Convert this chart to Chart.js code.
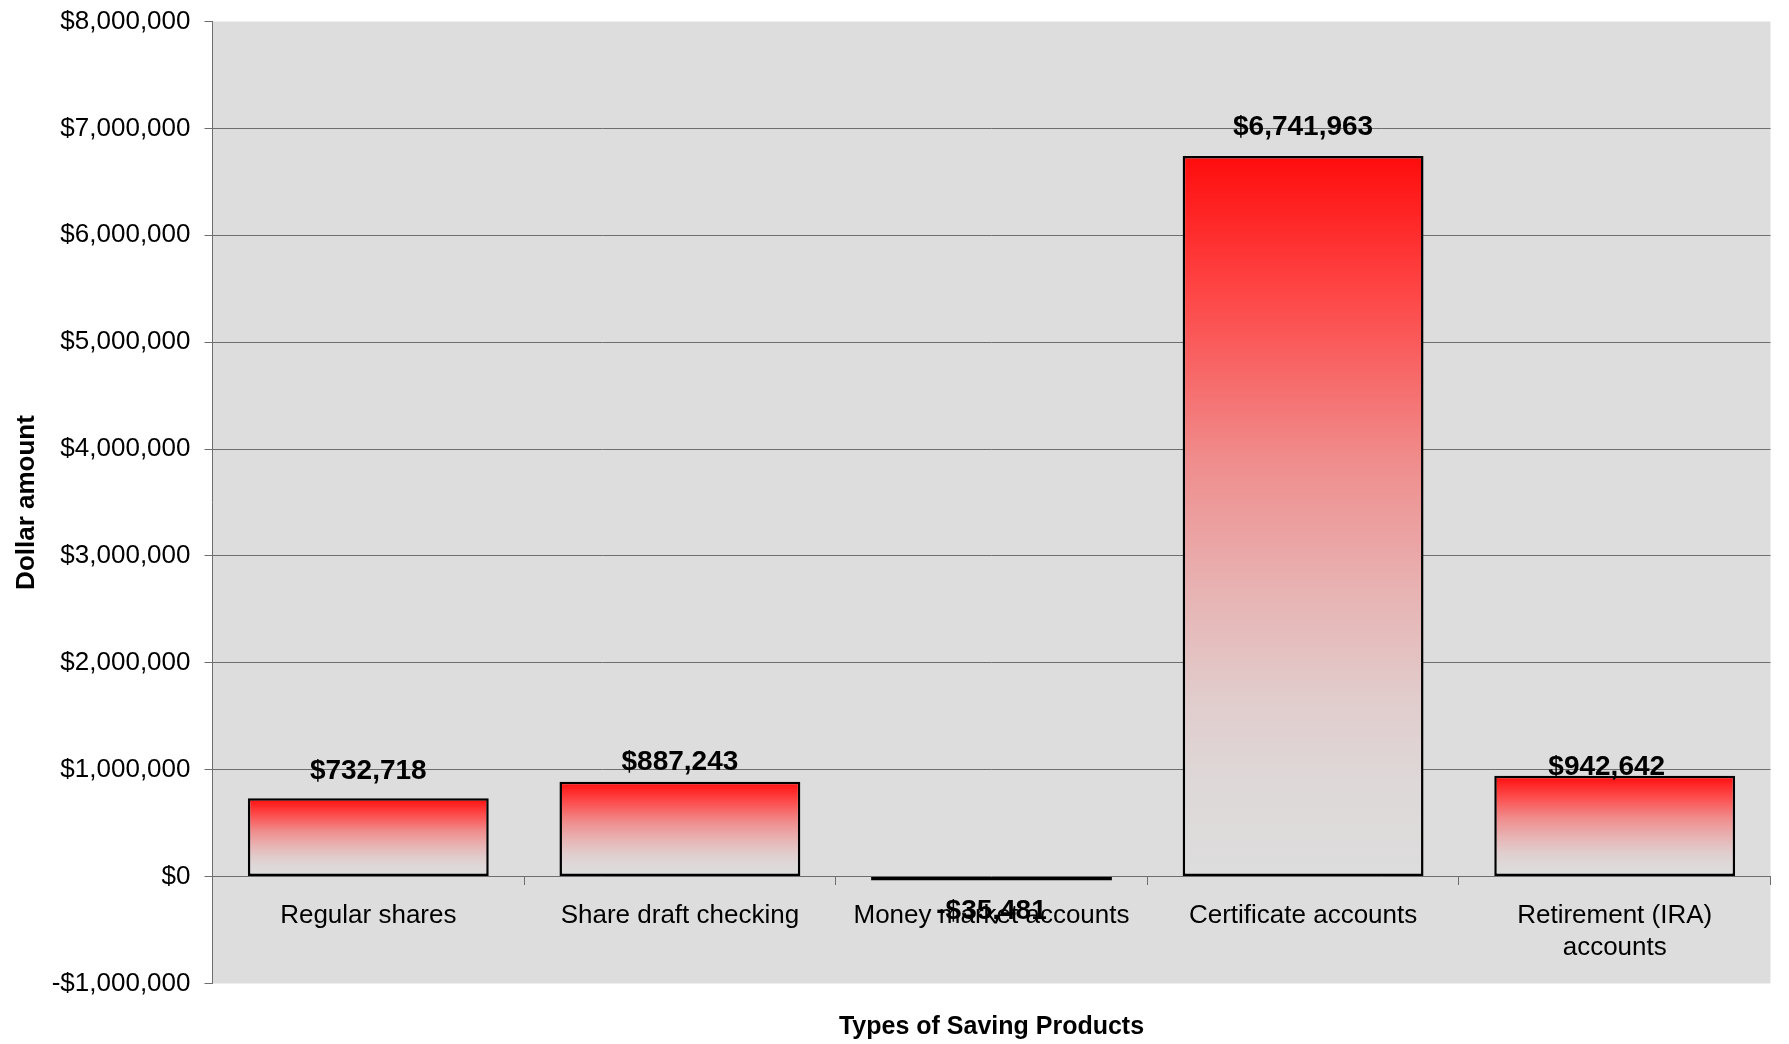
<!DOCTYPE html>
<html>
<head>
<meta charset="utf-8">
<script src="https://cdn.jsdelivr.net/npm/chart.js@4/dist/chart.umd.min.js"></script>
<style>
  html, body { margin: 0; padding: 0; background: #ffffff; }
  canvas { display: block; }
</style>
</head>
<body>
<canvas id="savingsChart" width="1789" height="1044"></canvas>
<script>
// Saving product categories and their dollar amounts
const categories = [
  'Regular shares',
  'Share draft checking',
  'Money market accounts',
  'Certificate accounts',
  ['Retirement (IRA)', 'accounts']
];
const amounts = [732718, 887243, -35481, 6741963, 942642];

// Value axis range and tick step
const yMin = -1000000;
const yMax = 8000000;
const yStep = 1000000;

const xTitle = 'Types of Saving Products';
const yTitle = 'Dollar amount';

// How far each value label sits from the end of its bar (px), and a sideways nudge
const labelLift = [27, 19, 31, 29, 9];
const labelShift = [0, 0, 0, 0, -8];

const FONT = "'Liberation Sans', Arial, Helvetica, sans-serif";
const money = v => (v < 0 ? '-$' : '$') + Math.abs(v).toLocaleString('en-US');

// Red-to-grey vertical fade used inside every bar
const fadeStops = [
  [0, 'rgb(255,12,12)'],
  [0.19, 'rgb(254,70,70)'],
  [0.42, 'rgb(240,140,140)'],
  [0.6, 'rgb(232,178,178)'],
  [0.76, 'rgb(225,205,205)'],
  [0.87, 'rgb(222,216,216)'],
  [1, 'rgb(221,221,221)']
];

function barFill(context) {
  const chart = context.chart;
  const yScale = chart.scales.y;
  if (!chart.chartArea || !yScale || context.raw == null) return 'rgb(240,140,140)';
  const top = yScale.getPixelForValue(Math.max(context.raw, 0));
  const bottom = yScale.getPixelForValue(Math.min(context.raw, 0));
  const g = chart.ctx.createLinearGradient(0, top, 0, Math.max(bottom, top + 1));
  fadeStops.forEach(([offset, color]) => g.addColorStop(offset, color));
  return g;
}

// Grey plot area
const plotBackground = {
  id: 'plotBackground',
  beforeDraw(chart) {
    const { ctx, chartArea: a } = chart;
    ctx.save();
    ctx.fillStyle = '#dddddd';
    ctx.fillRect(a.left, a.top, a.right - a.left, a.bottom - a.top);
    ctx.restore();
  }
};

// Bold dollar labels above (or below) each bar
const valueLabels = {
  id: 'valueLabels',
  afterDatasetsDraw(chart) {
    const meta = chart.getDatasetMeta(0);
    const ctx = chart.ctx;
    ctx.save();
    ctx.font = 'bold 28px ' + FONT;
    ctx.fillStyle = '#000000';
    ctx.textAlign = 'center';
    ctx.textBaseline = 'middle';
    meta.data.forEach((bar, i) => {
      const v = amounts[i];
      const y = v >= 0 ? bar.y - labelLift[i] : bar.y + labelLift[i];
      ctx.fillText(money(v), bar.x + labelShift[i], y);
    });
    ctx.restore();
  }
};

new Chart(document.getElementById('savingsChart'), {
  type: 'bar',
  data: {
    labels: categories,
    datasets: [{
      data: amounts,
      backgroundColor: barFill,
      borderColor: '#000000',
      borderWidth: 2.5,
      borderSkipped: false,
      barPercentage: 0.773,
      categoryPercentage: 1,
      xAxisID: 'x',
      yAxisID: 'y'
    }]
  },
  options: {
    responsive: false,
    animation: false,
    devicePixelRatio: 1,
    layout: { padding: { top: 21.5, right: 18.5, bottom: 0, left: 0 } },
    plugins: {
      legend: { display: false },
      tooltip: { enabled: false },
      title: { display: false }
    },
    scales: {
      y: {
        type: 'linear',
        position: 'left',
        min: yMin,
        max: yMax,
        ticks: {
          stepSize: yStep,
          padding: 14,
          color: '#000000',
          font: { family: FONT, size: 26 },
          callback: v => money(v)
        },
        grid: {
          color: c => (c.tick && [yMin, yMax, 0].includes(c.tick.value)) ? 'rgba(0,0,0,0)' : '#6e6e6e',
          lineWidth: 1,
          drawTicks: true,
          tickLength: 8,
          tickColor: '#6e6e6e'
        },
        border: { display: true, color: '#6e6e6e', width: 1 },
        title: {
          display: true,
          text: yTitle,
          color: '#000000',
          font: { family: FONT, size: 26, weight: 'bold' },
          padding: { top: 11, bottom: 0 }
        },
        afterFit: scale => {
          scale.width = 212.5;
          scale.paddingTop = 0;
          scale.paddingBottom = 0;
        }
      },
      x: {
        type: 'category',
        position: { y: 0 },
        offset: true,
        grid: {
          offset: true,
          drawOnChartArea: false,
          drawTicks: true,
          tickLength: 8,
          tickColor: '#6e6e6e'
        },
        border: { display: true, color: '#6e6e6e', width: 1 },
        ticks: {
          color: '#000000',
          padding: 16,
          maxRotation: 0,
          autoSkip: false,
          font: { family: FONT, size: 26, lineHeight: 1.2 }
        }
      },
      xTitle: {
        type: 'category',
        position: 'bottom',
        grid: { display: false, drawTicks: false },
        border: { display: false },
        ticks: { display: false },
        title: {
          display: true,
          text: xTitle,
          color: '#000000',
          font: { family: FONT, size: 25, weight: 'bold' },
          padding: { top: 28.5, bottom: 2 }
        }
      }
    }
  },
  plugins: [plotBackground, valueLabels]
});
</script>
</body>
</html>
